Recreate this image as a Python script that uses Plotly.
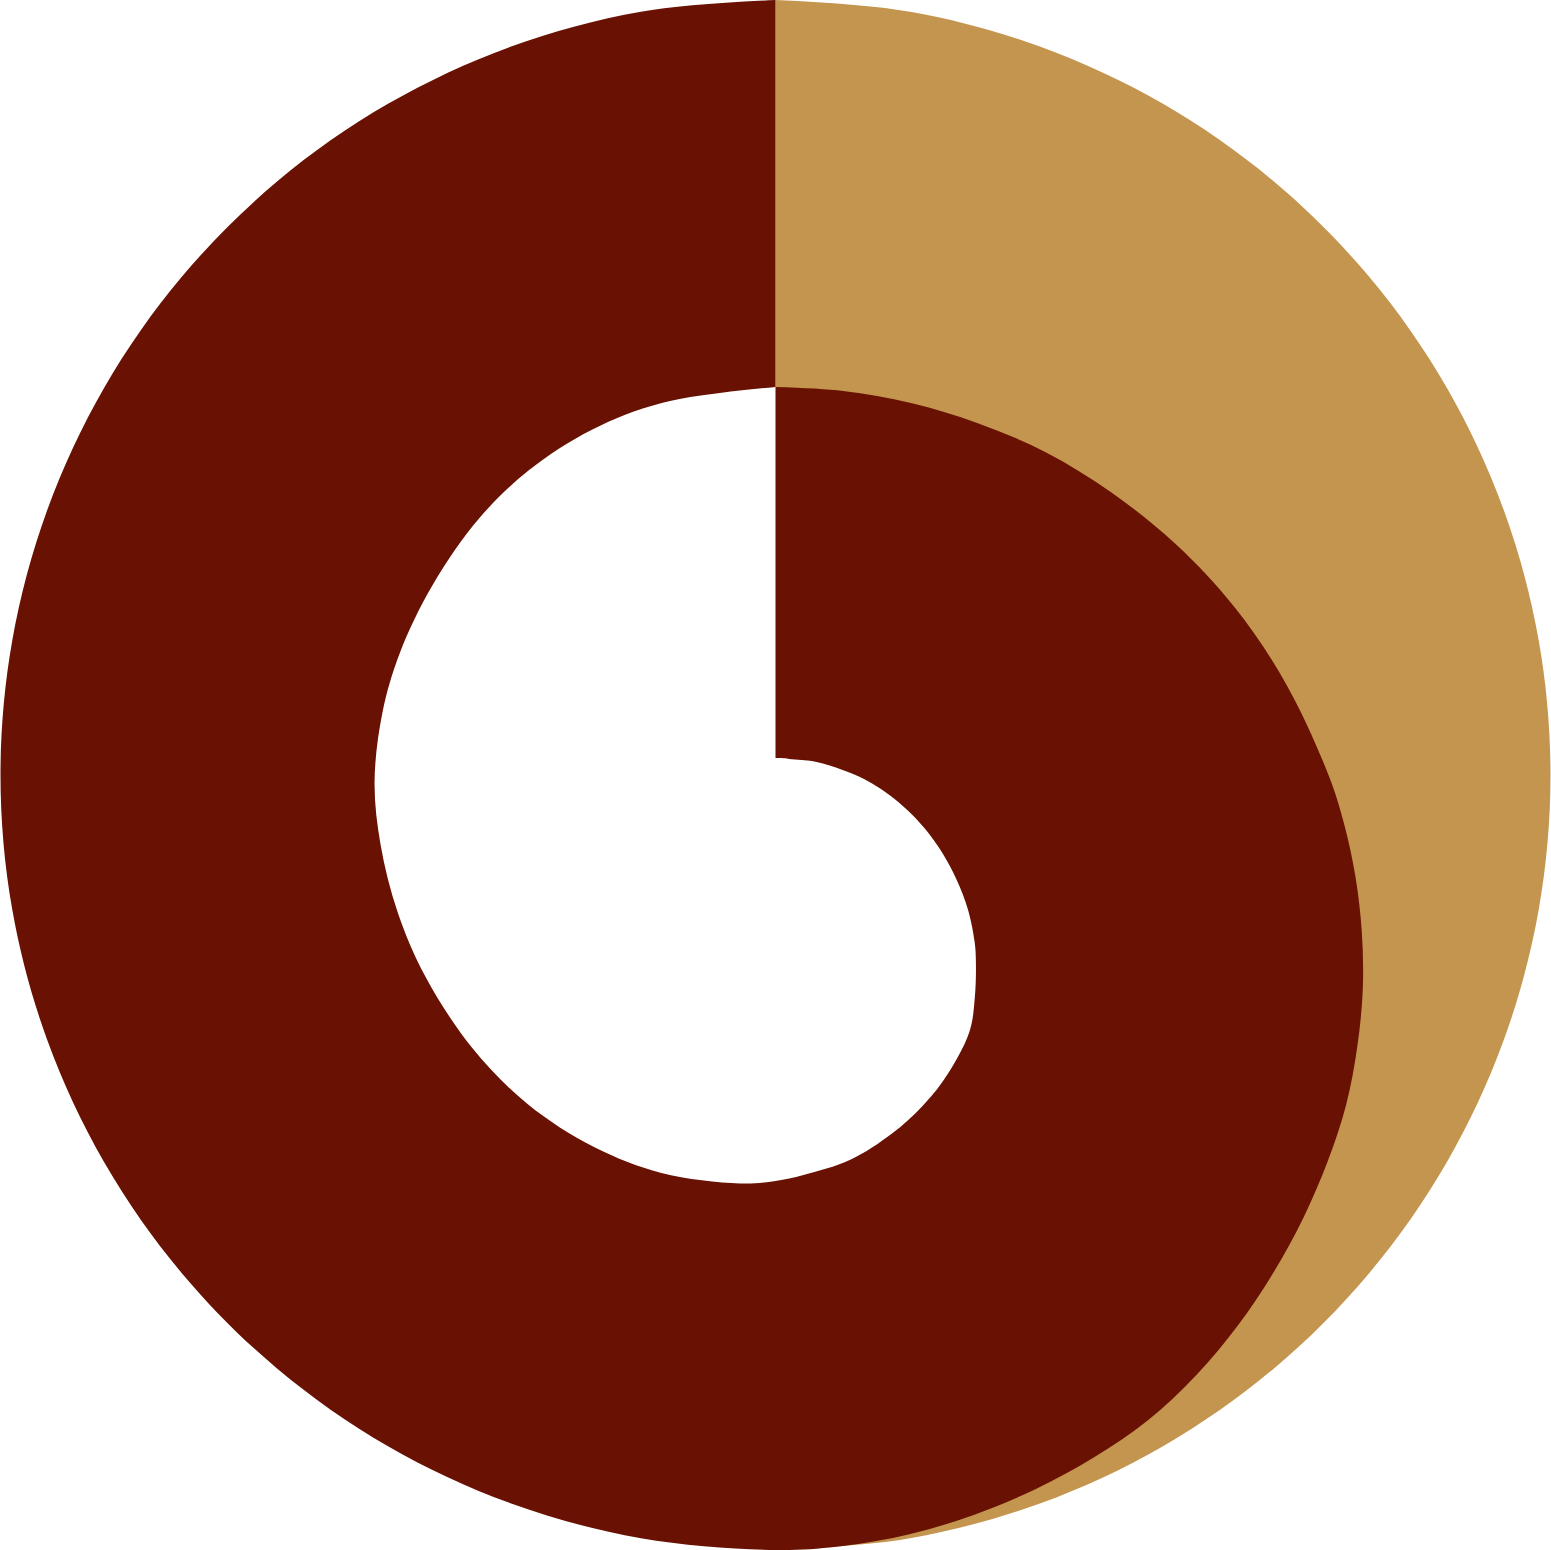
import numpy as np
import plotly.graph_objects as go

# angles are degrees counter-clockwise from 12 o'clock, radii in px-sized axis units

# outer rim of the disc (constant radius)
rim_left_theta = [0, 10, 20, 30, 40, 50, 60, 70, 80, 90, 100, 110, 120, 130, 140, 150, 160, 170, 180]
rim_right_theta = [180, 190, 200, 210, 220, 230, 240, 250, 260, 270, 280, 290, 300, 310, 320, 330, 340, 350, 360]
rim_r = 775

# outer edge of the spiral band where it turns back in on the right side
band_outer_theta = [185, 190, 195, 200, 205, 210, 215, 220, 225, 230, 235, 240, 245, 250,
                    255, 260, 265, 270, 280, 290, 300, 310, 320, 330, 340, 350, 360]
band_outer_r = [774, 771, 766, 760, 753, 745, 733, 719, 704, 689, 674, 659, 642, 625,
                607, 589, 571, 553, 519, 489, 462, 439, 421, 406, 396, 390, 388]

# inner edge of the band (the white hole), one full turn
hole_theta = [0, 17, 28, 39, 49, 61, 72, 81, 91, 100, 110, 120, 132, 143, 154, 164, 175,
              180, 184, 191, 198, 204, 209, 217, 222, 227, 230, 235, 240, 245, 250, 255,
              260, 265, 270, 280, 290, 300, 320, 340, 360]
hole_r = [388, 389, 391, 392, 392, 392, 395, 398, 401, 401, 402, 404, 408, 412, 414, 414, 410,
          406, 401, 392, 377, 362, 348, 322, 298, 274, 260, 235, 209, 184, 160, 137,
          116, 97, 80, 55, 40, 30, 21, 18, 17]

DARK = "#691203"
TAN = "#C4954E"


def to_xy(theta, r):
    t = np.radians(np.asarray(theta, dtype=float))
    r = np.asarray(r, dtype=float) * np.ones_like(t)
    return -r * np.sin(t), r * np.cos(t)


fig = go.Figure()

# right half of the disc, tan
x, y = to_xy(rim_right_theta, rim_r)
fig.add_trace(go.Scatter(
    x=x, y=y, mode="lines", fill="toself", fillcolor=TAN,
    line=dict(width=0, color=TAN, shape="spline", smoothing=1),
    hoverinfo="skip",
))

# dark band: left half of the rim, then spiralling in on the right
xl, yl = to_xy(rim_left_theta, rim_r)
xb, yb = to_xy(band_outer_theta, band_outer_r)
fig.add_trace(go.Scatter(
    x=np.concatenate([xl, xb]), y=np.concatenate([yl, yb]),
    mode="lines", fill="toself", fillcolor=DARK,
    line=dict(width=0, color=DARK, shape="spline", smoothing=1),
    hoverinfo="skip",
))

# hole in the middle
x, y = to_xy(hole_theta, hole_r)
fig.add_trace(go.Scatter(
    x=x, y=y, mode="lines", fill="toself", fillcolor="white",
    line=dict(width=0, color="white", shape="spline", smoothing=1),
    hoverinfo="skip",
))

fig.update_layout(
    width=1551, height=1550,
    margin=dict(l=0, r=0, t=0, b=0),
    paper_bgcolor="white",
    plot_bgcolor="white",
    showlegend=False,
    xaxis=dict(range=[-775.5, 775.5], visible=False, showgrid=False, zeroline=False),
    yaxis=dict(range=[-775, 775], visible=False, showgrid=False, zeroline=False),
)

fig.write_html("out.html", config={"displayModeBar": False},
               post_script="document.body.style.margin = '0';")
